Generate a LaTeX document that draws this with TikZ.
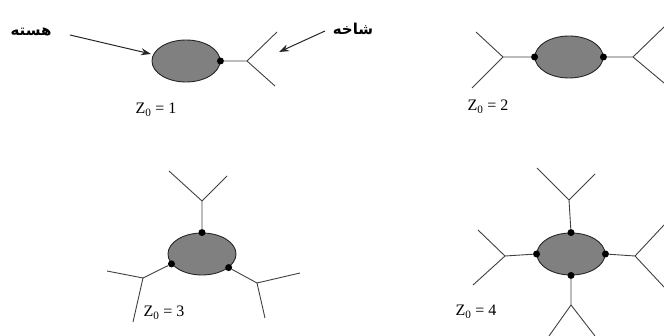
\documentclass[tikz,border=0pt]{standalone}
\usepackage{fontspec}
\setmainfont{Liberation Serif}
\newfontfamily\arabicfont[Script=Arabic]{DejaVu Sans}
\TeXXeTstate=1
\usetikzlibrary{shapes.geometric,arrows.meta}
\begin{document}
\begin{tikzpicture}[x=1pt,y=-1pt,
  core/.style={ellipse,draw=black!85,line width=0.9pt,fill=black!50,minimum width=68pt,minimum height=42pt,inner sep=0pt},
  jdot/.style={circle,fill=black,inner sep=0pt,minimum size=7pt},
  link/.style={draw=black!75,line width=0.9pt},
  arr/.style={draw=black!85,line width=1pt,-{Stealth[length=10pt,width=7pt]}},
  zlab/.style={font=\fontsize{16}{18}\selectfont,inner sep=0pt},
  arlab/.style={font=\fontsize{15}{17}\selectfont\arabicfont\bfseries,inner sep=0pt}]
\useasboundingbox (0,0) rectangle (664,336);
% ---------- panel 1
\node[core] (c1) at (186,61) {};
\node[jdot] (d1) at (c1.east) {};
\coordinate (b1) at (247,61);
\coordinate (b1u) at (277,32);
\coordinate (b1d) at (275,86);
\draw[link] (d1) -- (b1) -- (b1u) (b1) -- (b1d);
\node[zlab] (z1) at (156,110) {Z\textsubscript{0} = 1};
\node[arlab] (t1) at (31,32) {\beginR هسته\endR};
\node[arlab] (t2) at (353,29) {\beginR شاخه\endR};
\coordinate (a1s) at (70,35);
\coordinate (a1e) at (151,54);
\coordinate (a2s) at (325,31);
\coordinate (a2e) at (279,52);
\draw[arr] (a1s) -- (a1e);
\draw[arr] (a2s) -- (a2e);
% ---------- panel 2
\node[core] (c2) at (569,57) {};
\node[jdot] (d2l) at (c2.west) {};
\node[jdot] (d2r) at (c2.east) {};
\coordinate (b2l) at (503,57);
\coordinate (b2lu) at (476,32);
\coordinate (b2ld) at (472,88);
\coordinate (b2r) at (633,57);
\coordinate (b2ru) at (664,27);
\coordinate (b2rd) at (664,83);
\draw[link] (d2l) -- (b2l) -- (b2lu) (b2l) -- (b2ld);
\draw[link] (d2r) -- (b2r) -- (b2ru) (b2r) -- (b2rd);
\node[zlab] (z2) at (488,107) {Z\textsubscript{0} = 2};
% ---------- panel 3
\node[core] (c3) at (202,254) {};
\node[jdot] (d3t) at (c3.north) {};
\node[jdot] (d3l) at (c3.198) {};
\node[jdot] (d3r) at (c3.333) {};
\coordinate (b3t) at (202,201);
\coordinate (b3tl) at (169,171);
\coordinate (b3tr) at (227,176);
\coordinate (b3l) at (143,278);
\coordinate (b3la) at (107,271);
\coordinate (b3lb) at (133,322);
\coordinate (b3r) at (257,283);
\coordinate (b3ra) at (300,273);
\coordinate (b3rb) at (265,318);
\draw[link] (d3t) -- (b3t) -- (b3tl) (b3t) -- (b3tr);
\draw[link] (d3l) -- (b3l) -- (b3la) (b3l) -- (b3lb);
\draw[link] (d3r) -- (b3r) -- (b3ra) (b3r) -- (b3rb);
\node[zlab] (z3) at (164,313) {Z\textsubscript{0} = 3};
% ---------- panel 4
\node[core] (c4) at (571,254) {};
\node[jdot] (d4t) at (c4.north) {};
\node[jdot] (d4b) at (c4.south) {};
\node[jdot] (d4l) at (c4.west) {};
\node[jdot] (d4r) at (c4.east) {};
\coordinate (b4t) at (569,200);
\coordinate (b4ta) at (537,168);
\coordinate (b4tb) at (595,174);
\coordinate (b4l) at (505,256);
\coordinate (b4la) at (478,230);
\coordinate (b4lb) at (473,285);
\coordinate (b4r) at (635,256);
\coordinate (b4ra) at (664,225);
\coordinate (b4rb) at (664,287);
\coordinate (b4b) at (571,305);
\coordinate (b4ba) at (549,336);
\coordinate (b4bb) at (595,336);
\draw[link] (d4t) -- (b4t) -- (b4ta) (b4t) -- (b4tb);
\draw[link] (d4l) -- (b4l) -- (b4la) (b4l) -- (b4lb);
\draw[link] (d4r) -- (b4r) -- (b4ra) (b4r) -- (b4rb);
\draw[link] (d4b) -- (b4b) -- (b4ba) (b4b) -- (b4bb);
\node[zlab] (z4) at (476,312) {Z\textsubscript{0} = 4};
\end{tikzpicture}
\end{document}
